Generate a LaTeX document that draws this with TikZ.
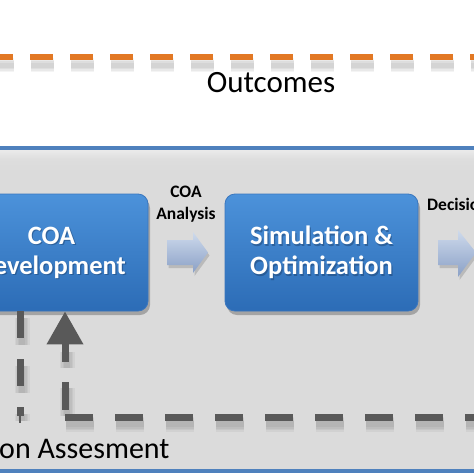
\documentclass[tikz,border=0pt]{standalone}
\usepackage{fontspec}
\setmainfont{Carlito}
\usetikzlibrary{arrows.meta,shadows,calc}
\definecolor{dashorange}{RGB}{226,120,36}
\definecolor{panelblue}{RGB}{79,129,189}
\definecolor{boxtop}{RGB}{76,146,218}
\definecolor{boxbot}{RGB}{44,108,182}
\definecolor{boxedge}{RGB}{58,118,190}
\definecolor{fbgray}{RGB}{89,89,89}
\definecolor{arrtop}{RGB}{206,218,236}
\definecolor{arrbot}{RGB}{138,160,198}
\definecolor{txtshadow}{RGB}{20,50,90}
\tikzset{
  bluebox/.style={rectangle, rounded corners=10pt, minimum width=193pt, minimum height=117pt,
    top color=boxtop, bottom color=boxbot, draw=boxedge, line width=0.8pt,
    drop shadow={shadow xshift=2pt, shadow yshift=-4pt, opacity=0.25, fill=black}},
  boxtext/.style={align=center, text=white, font=\fontsize{26.5}{30}\selectfont\bfseries},
  boxtextsh/.style={align=center, text=txtshadow, opacity=0.4, font=\fontsize{26.5}{30}\selectfont\bfseries},
  smalllabel/.style={align=center, text=black, font=\fontsize{17.5}{22}\selectfont\bfseries, inner sep=0pt},
  biglabel/.style={text=black, font=\fontsize{31}{35}\selectfont, inner sep=0pt},
  fbline/.style={draw=fbgray, line width=7pt},
  softsh/.style={draw=black, opacity=0.045},
  orangeline/.style={draw=dashorange, line width=6pt, dash pattern=on 23pt off 17pt},
  flatarrow/.style={top color=arrtop, bottom color=arrbot, draw=none,
    drop shadow={shadow xshift=1.5pt, shadow yshift=-3pt, opacity=0.15, fill=black}}
}
\begin{document}
\begin{tikzpicture}[x=1pt,y=-1pt]
\useasboundingbox (0,0) rectangle (474,474);
\fill[white] (0,0) rectangle (474,474);
% orange dashed line with soft shadow
\foreach \w in {14,11,8,5}{
  \draw[softsh, line width=\w pt, dash pattern=on 23pt off 17pt] (-9,65) -- (520,65);
}
\draw[orangeline] (-10,57) -- (520,57);
\node[biglabel, anchor=base] (outcomes) at (271,92) {Outcomes};
% panel
\shade[top color=black!7, bottom color=black!14, middle color=black!13] (-10,148) rectangle (500,170);
\fill[black!14] (-10,170) rectangle (500,470);
\draw[panelblue, line width=3.5pt] (-10,148) -- (500,148);
\draw[panelblue, line width=3.5pt] (-10,471) -- (500,471);
% boxes
\node[bluebox] (coa) at (51.5,252.5) {};
\node[bluebox] (sim) at (321.5,252.5) {};
\node[boxtextsh] (coash) at ($(coa.center)+(1.2,1.5)$) {COA\\Development};
\node[boxtext] (coatxt) at (coa.center) {COA\\Development};
\node[boxtextsh] (simsh) at ($(sim.center)+(1.2,1.5)$) {Simulation \&\\Optimization};
\node[boxtext] (simtxt) at (sim.center) {Simulation \&\\Optimization};
% flat arrows
\coordinate (a1) at (167,252.5);
\coordinate (a2) at (438,252.5);
\path[flatarrow] ($(a1)+(0,-12.5)$) -- ++(26,0) -- ++(0,-8) -- ($(a1)+(41,0)$) -- ($(a1)+(26,20.5)$) -- ++(0,-8) -- ($(a1)+(0,12.5)$) -- cycle;
\path[flatarrow] ($(a2)+(0,-12.5)$) -- ++(20,0) -- ++(0,-10) -- ($(a2)+(38,0)$) -- ($(a2)+(20,24.5)$) -- ++(0,-12) -- ($(a2)+(0,12.5)$) -- cycle;
\node[smalllabel] (coaan) at (186,204) {COA\\Analysis};
\node[smalllabel, anchor=west] (dec) at (427,204) {Decision};
% feedback lines
\coordinate (fb) at (65,417);
\coordinate (ld) at (20,423);
\foreach \w in {15,12,9,6}{
  \draw[softsh, line width=\w pt, dash pattern=on 28pt off 22pt] (66,424) -- (520,424);
  \draw[softsh, line width=\w pt, dash pattern=on 28pt off 20pt] (67,416) -- (67,352);
  \draw[softsh, line width=\w pt, dash pattern=on 27pt off 21pt] (22,318) -- (22,421);
}
\draw[fbline, dash pattern=on 28pt off 22pt] (fb) -- (520,417);
\draw[fbline, dash pattern=on 28pt off 20pt, -{Triangle[length=33pt,width=35pt]}] (65,410) -- (coa.south -| fb);
\draw[fbline, dash pattern=on 27pt off 21pt] (coa.south -| ld) -- (20,416);
\draw[fbgray, line width=2.5pt] (20,414) -- (ld);
\node[biglabel, anchor=base west, font=\fontsize{30}{34}\selectfont] (assess) at (-1,458) {on Assesment};
\end{tikzpicture}
\end{document}
